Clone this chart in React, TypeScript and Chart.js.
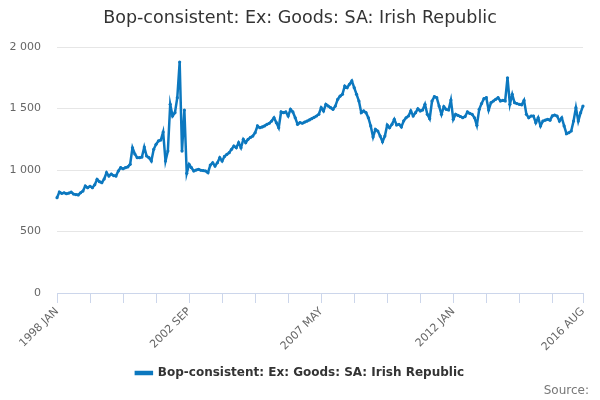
import { useEffect, useRef } from 'react';
import { Chart, registerables } from 'chart.js';

Chart.register(...registerables);

const FONT = "'DejaVu Sans', sans-serif";
const LINE_COLOR = '#0c78bf';

const MONTHS = ['JAN', 'FEB', 'MAR', 'APR', 'MAY', 'JUN', 'JUL', 'AUG', 'SEP', 'OCT', 'NOV', 'DEC'];
const START_YEAR = 1998;

// monthly values, one array per year (£m)
const y1998 = [775, 821, 810, 815, 807, 812, 820, 805, 800, 797, 815, 829];
const y1999 = [870, 856, 868, 856, 880, 924, 905, 897, 927, 978, 951, 967];
const y2000 = [955, 951, 992, 1019, 1010, 1019, 1025, 1046, 1181, 1130, 1100, 1100];
const y2001 = [1105, 1186, 1114, 1100, 1073, 1168, 1209, 1236, 1244, 1309, 1073, 1154];
const y2002 = [1534, 1439, 1466, 1588, 1878, 1154, 1488, 973, 1046, 1019, 992, 1000];
const y2003 = [1005, 998, 995, 992, 978, 1040, 1059, 1032, 1059, 1100, 1073, 1110];
const y2004 = [1127, 1141, 1168, 1195, 1181, 1222, 1181, 1249, 1222, 1249, 1265, 1276];
const y2005 = [1303, 1358, 1344, 1350, 1358, 1371, 1380, 1398, 1425, 1385, 1344, 1472];
const y2006 = [1466, 1472, 1439, 1493, 1472, 1425, 1371, 1385, 1380, 1390, 1398, 1407];
const y2007 = [1417, 1428, 1439, 1453, 1507, 1480, 1534, 1520, 1507, 1493, 1520, 1575];
const y2008 = [1600, 1615, 1683, 1669, 1697, 1724, 1669, 1615, 1561, 1466, 1480, 1466];
const y2009 = [1425, 1358, 1268, 1331, 1317, 1276, 1230, 1276, 1366, 1344, 1371, 1412];
const y2010 = [1366, 1371, 1350, 1400, 1425, 1439, 1480, 1440, 1466, 1498, 1480, 1488];
const y2011 = [1534, 1453, 1417, 1561, 1596, 1588, 1520, 1453, 1515, 1493, 1488, 1569];
const y2012 = [1412, 1453, 1444, 1435, 1425, 1434, 1472, 1460, 1453, 1425, 1363, 1493];
const y2013 = [1540, 1580, 1588, 1488, 1547, 1561, 1575, 1588, 1561, 1566, 1561, 1750];
const y2014 = [1534, 1615, 1547, 1540, 1534, 1530, 1566, 1453, 1425, 1439, 1439, 1385];
const y2015 = [1425, 1358, 1398, 1405, 1412, 1405, 1440, 1447, 1439, 1398, 1425, 1358];
const y2016 = [1295, 1303, 1317, 1398, 1507, 1398, 1466, 1520];

const seriesValues = [
    ...y1998, ...y1999, ...y2000, ...y2001, ...y2002, ...y2003, ...y2004,
    ...y2005, ...y2006, ...y2007, ...y2008, ...y2009, ...y2010, ...y2011,
    ...y2012, ...y2013, ...y2014, ...y2015, ...y2016,
];

const categories = seriesValues.map((_, i) => `${START_YEAR + Math.floor(i / 12)} ${MONTHS[i % 12]}`);

const shownLabels = ['1998 JAN', '2002 SEP', '2007 MAY', '2012 JAN', '2016 AUG'];
const TICK_EVERY = 14;
const yTicks = [0, 500, 1000, 1500, 2000];

const SERIES_NAME = 'Bop-consistent: Ex: Goods: SA: Irish Republic';

const formatThousands = (v: number) => String(v).replace(/\B(?=(\d{3})+(?!\d))/g, ' ');

export default function App() {
    const canvasRef = useRef<HTMLCanvasElement | null>(null);
    const chartRef = useRef<Chart | null>(null);

    useEffect(() => {
        if (!canvasRef.current) return;
        const ctx = canvasRef.current.getContext('2d');
        if (!ctx) return;

        if (chartRef.current) chartRef.current.destroy();

        const last = categories.length - 1;

        chartRef.current = new Chart(ctx, {
            type: 'line',
            data: {
                labels: categories,
                datasets: [
                    {
                        label: SERIES_NAME,
                        data: seriesValues,
                        borderColor: LINE_COLOR,
                        backgroundColor: LINE_COLOR,
                        borderWidth: 2.5,
                        pointRadius: 1.6,
                        pointBorderWidth: 0,
                        pointBackgroundColor: LINE_COLOR,
                        tension: 0,
                        fill: false,
                    },
                ],
            },
            options: {
                responsive: true,
                maintainAspectRatio: false,
                animation: false,
                layout: {
                    padding: { left: 0, right: 0, top: 0, bottom: 11 },
                },
                plugins: {
                    title: {
                        display: true,
                        text: SERIES_NAME,
                        color: '#333333',
                        font: { family: FONT, size: 17.5, weight: 'normal' },
                        padding: { top: 8, bottom: 18 },
                    },
                    legend: {
                        display: true,
                        position: 'bottom',
                        labels: {
                            color: '#333333',
                            font: { family: FONT, size: 12, weight: 'bold' },
                            boxWidth: 16,
                            boxHeight: 2,
                            padding: 10,
                        },
                    },
                    tooltip: { enabled: false },
                },
                scales: {
                    x: {
                        type: 'category',
                        offset: false,
                        grid: {
                            drawOnChartArea: false,
                            drawTicks: true,
                            tickLength: 10,
                            color: (c: any) =>
                                c.index % TICK_EVERY === 0 || c.index === last ? '#ccd6eb' : 'rgba(0,0,0,0)',
                        },
                        border: { display: true, color: '#ccd6eb' },
                        ticks: {
                            autoSkip: false,
                            maxRotation: 45,
                            minRotation: 45,
                            color: '#666666',
                            font: { family: FONT, size: 11 },
                            padding: 2,
                            callback: (_v: any, i: number) =>
                                shownLabels.includes(categories[i]) ? categories[i] : '',
                        },
                        afterFit: (scale: any) => {
                            scale.height = 64;
                        },
                    },
                    y: {
                        min: yTicks[0],
                        max: yTicks[yTicks.length - 1],
                        grid: { color: '#e6e6e6', drawTicks: false },
                        border: { display: false },
                        afterBuildTicks: (scale: any) => {
                            scale.ticks = yTicks.map((v) => ({ value: v }));
                        },
                        ticks: {
                            color: '#666666',
                            font: { family: FONT, size: 11 },
                            padding: 16,
                            callback: (v: any) => formatThousands(Number(v)),
                        },
                        afterFit: (scale: any) => {
                            scale.width = 57;
                        },
                    },
                    // empty right-hand spacer so the plot stops short of the edge
                    spacer: {
                        type: 'linear',
                        position: 'right',
                        display: true,
                        grid: { display: false, drawTicks: false },
                        border: { display: false },
                        ticks: { display: false },
                        afterFit: (scale: any) => {
                            scale.width = 17;
                        },
                    },
                },
            },
        });

        return () => {
            if (chartRef.current) {
                chartRef.current.destroy();
                chartRef.current = null;
            }
        };
    }, []);

    return (
        <div style={{ position: 'absolute', left: 0, top: 0, width: 600, height: 400, background: '#fff' }}>
            <canvas ref={canvasRef}></canvas>
            <div
                style={{
                    position: 'absolute',
                    right: 11,
                    top: 383,
                    fontFamily: FONT,
                    fontSize: 12,
                    color: '#777777',
                }}
            >
                Source:
            </div>
        </div>
    );
}
